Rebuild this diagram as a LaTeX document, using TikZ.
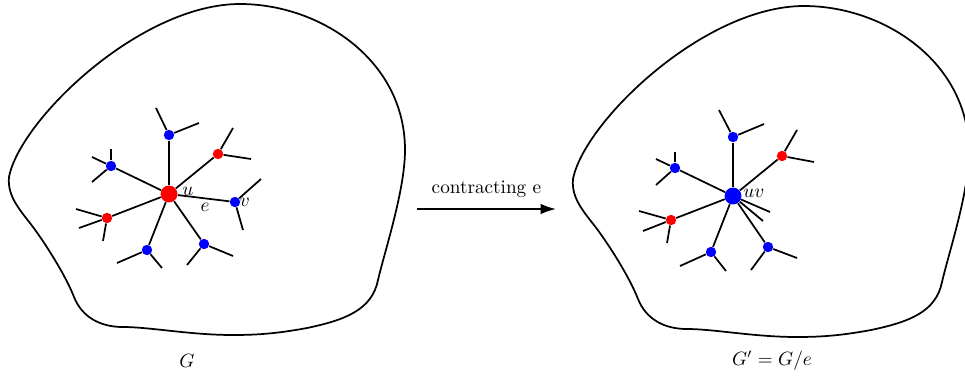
\documentclass[tikz,border=0pt]{standalone}
\usepackage{xcolor}
\usepackage{tikz}
\usepackage{amsmath}
\usetikzlibrary{arrows.meta}
\definecolor{ctred}{HTML}{FF0000}
\definecolor{ctblue}{HTML}{0000FF}
\tikzset{
  vsmall/.style={circle,inner sep=0pt,minimum size=5.4pt},
  vbig/.style={circle,inner sep=0pt,minimum size=8.8pt},
  edge/.style={line width=0.9pt},
  blob/.style={line width=0.9pt},
}

\begin{document}
\begin{tikzpicture}[x=0.52pt,y=-0.52pt]
  \useasboundingbox (0,0) rectangle (965,378);
  % the two graphs
  \foreach \dx/\dy in {0/0,564/2}
    \draw[blob,shift={(\dx,\dy)}] (9,177)
      .. controls (20,120) and (140,4) .. (240,4)
      .. controls (320,4) and (405,60) .. (405,150)
      .. controls (405,190) and (385,250) .. (378,280)
      .. controls (372,310) and (345,320) .. (307,328)
      .. controls (280,333) and (260,335) .. (233,335)
      .. controls (190,335) and (150,327) .. (123,327)
      .. controls (100,327) and (82,317) .. (74,297)
      .. controls (66,276) and (45,243) .. (33,227)
      .. controls (21,211) and (7,197) .. cycle;

  % G: u and its neighbours
  \node[vbig,fill=ctred] (u) at (169,194) {};
  \node[vsmall,fill=ctblue] (a) at (169,135) {};
  \node[vsmall,fill=ctred] (b) at (218,154) {};
  \node[vsmall,fill=ctblue] (c) at (111,166) {};
  \node[vsmall,fill=ctred] (d) at (107,218) {};
  \node[vsmall,fill=ctblue] (f) at (147,250) {};
  \node[vsmall,fill=ctblue] (g) at (204,244) {};
  \node[vsmall,fill=ctblue] (v) at (235,202) {};
  \foreach \n in {a,b,c,d,f,g,v}
    \draw[edge] (u) -- (\n);
  \foreach \n/\x/\y [count=\i] in {a/156/108,a/199/123,b/233/128,b/251/159,
      c/92/157,c/111/149,c/92/182,d/76/209,d/79/228,d/103/241,
      f/117/263,f/162/268,g/187/265,g/233/256,v/261/179,v/243/230}
    \draw[edge] (\n) -- (\x,\y) coordinate (l\i);
  \node (lu) at (188,191) {$u$};
  \node (le) at (205,207) {$e$};
  \node (lv) at (245,202) {$v$};

  % G/e: u and v merged
  \node[vbig,fill=ctblue] (w) at (733,196) {};
  \node[vsmall,fill=ctblue] (a2) at (733,137) {};
  \node[vsmall,fill=ctred] (b2) at (782,156) {};
  \node[vsmall,fill=ctblue] (c2) at (675,168) {};
  \node[vsmall,fill=ctred] (d2) at (671,220) {};
  \node[vsmall,fill=ctblue] (f2) at (711,252) {};
  \node[vsmall,fill=ctblue] (g2) at (768,247) {};
  \foreach \n in {a2,b2,c2,d2,f2,g2}
    \draw[edge] (w) -- (\n);
  \foreach \n/\x/\y [count=\i] in {a2/719/110,a2/764/124,b2/797/130,b2/814/162,
      c2/656/159,c2/675/152,c2/656/185,d2/639/211,d2/643/231,d2/667/243,
      f2/680/266,f2/726/271,g2/751/270,g2/797/258,w/770/212,w/763/221}
    \draw[edge] (\n) -- (\x,\y) coordinate (m\i);
  \node (lw) at (754,193) {$uv$};

  % contraction arrow
  \coordinate (s) at (417,209);
  \coordinate (t) at (556,209);
  \draw[edge,-{Latex[length=8pt,width=5.5pt]}] (s) -- node[above=2pt] (lc) {contracting e} (t);

  \node (lg) at (187,361) {$G$};
  \node (lg2) at (772,361) {$G' = G/e$};
\end{tikzpicture}
\end{document}
